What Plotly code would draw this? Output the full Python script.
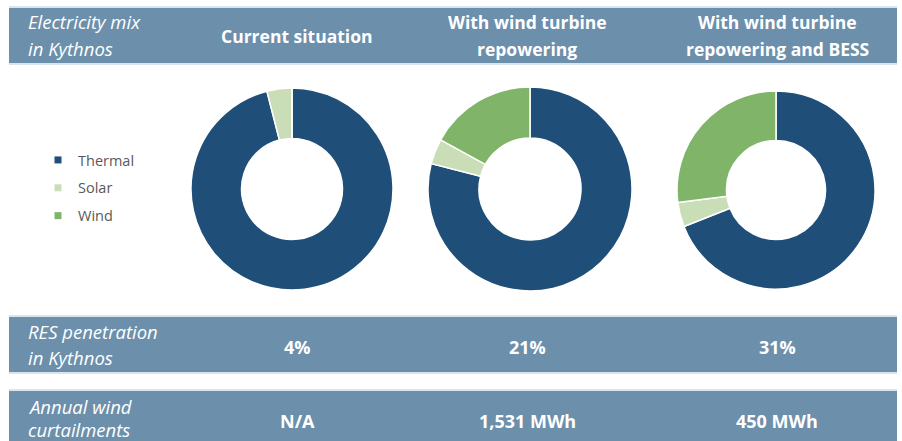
import plotly.graph_objects as go

W, H = 902, 441

# ---- data ----
sources = ["Thermal", "Solar", "Wind"]
current_mix = [96, 4, 0]
repower_mix = [79, 4, 17]
repower_bess_mix = [69, 4, 27]

column_titles = [["Current situation"],
                 ["With wind turbine", "repowering"],
                 ["With wind turbine", "repowering and BESS"]]
res_penetration = ["4%", "21%", "31%"]
curtailments = ["N/A", "1,531 MWh", "450 MWh"]
row_labels = [["Electricity mix", "in Kythnos"],
              ["RES penetration", "in Kythnos"],
              ["Annual wind", "curtailments"]]

# ---- style ----
colors = ["#1f4e79", "#c9ddb6", "#80b468"]
band = "#6c8fac"
edge = "#d8e5ef"
FONT = "Open Sans"

def px(x):
    return x / W

def py(y):
    return 1 - y / H

fig = go.Figure()

# donuts: (cx, cy, r) in pixels
geo = [(292, 189, 101), (530, 189, 102), (776, 190, 99)]
for vals, (cx, cy, r) in zip([current_mix, repower_mix, repower_bess_mix], geo):
    fig.add_trace(go.Pie(
        labels=sources, values=vals, hole=0.5, sort=False,
        direction="clockwise", rotation=0,
        marker=dict(colors=colors, line=dict(color="white", width=1.5)),
        textinfo="none", showlegend=False,
        domain=dict(x=[px(cx - r), px(cx + r)], y=[py(cy + r), py(cy - r)]),
    ))

# legend entries
for i, (name, c) in enumerate(zip(sources, colors)):
    fig.add_trace(go.Scatter(
        x=[None], y=[None], mode="markers", name=name,
        marker=dict(symbol="square", size=7, color=c),
        legendgroup=name, showlegend=True,
    ))

shapes = []
def bandrect(y0, y1):
    shapes.append(dict(type="rect", xref="paper", yref="paper",
                       x0=px(9), x1=px(897), y0=py(y1), y1=py(y0),
                       fillcolor=band, line=dict(width=0), layer="below"))
    shapes.append(dict(type="line", xref="paper", yref="paper",
                       x0=px(9), x1=px(897), y0=py(y1 + 1), y1=py(y1 + 1),
                       line=dict(color=edge, width=2)))
    shapes.append(dict(type="line", xref="paper", yref="paper",
                       x0=px(9), x1=px(897), y0=py(y0 - 1), y1=py(y0 - 1),
                       line=dict(color=edge, width=2)))

bandrect(8, 63)
bandrect(317, 372)
bandrect(391, 445)

ann = []
def txt(s, x, y, bold=False, italic=False, size=17, anchor="center"):
    t = s
    if bold:
        t = "<b>" + t + "</b>"
    if italic:
        t = "<i>" + t + "</i>"
    ann.append(dict(text=t, x=px(x), y=py(y), xref="paper", yref="paper",
                    xanchor=anchor, yanchor="middle", showarrow=False,
                    font=dict(family=FONT, size=size, color="white")))

col_x = [297, 527, 777]
# row labels
for (l1, l2), yy in zip(row_labels, [(22, 48), (331, 357), (406, 429)]):
    txt(l1, 26, yy[0], italic=True, anchor="left", size=18.5)
    txt(l2, 26, yy[1], italic=True, anchor="left", size=18.5)
for cx, lines in zip(col_x, column_titles):
    if len(lines) == 1:
        txt(lines[0], cx, 36, bold=True, size=17.5)
    else:
        txt(lines[0], cx, 22, bold=True, size=17.5)
        txt(lines[1], cx, 49, bold=True, size=17.5)
for cx, s in zip(col_x, res_penetration):
    txt(s, cx, 347, bold=True, size=18)
for cx, s in zip(col_x, curtailments):
    txt(s, cx, 421, bold=True, size=18)

fig.update_layout(
    width=W, height=H,
    margin=dict(l=0, r=0, t=0, b=0),
    paper_bgcolor="white", plot_bgcolor="white",
    xaxis=dict(visible=False), yaxis=dict(visible=False),
    shapes=shapes, annotations=ann,
    legend=dict(x=px(38), y=py(188), xanchor="left", yanchor="middle",
                font=dict(family=FONT, size=14.5, color="#595959"),
                tracegroupgap=6, itemwidth=30, bgcolor="rgba(0,0,0,0)"),
)

fig.write_html("out.html")
